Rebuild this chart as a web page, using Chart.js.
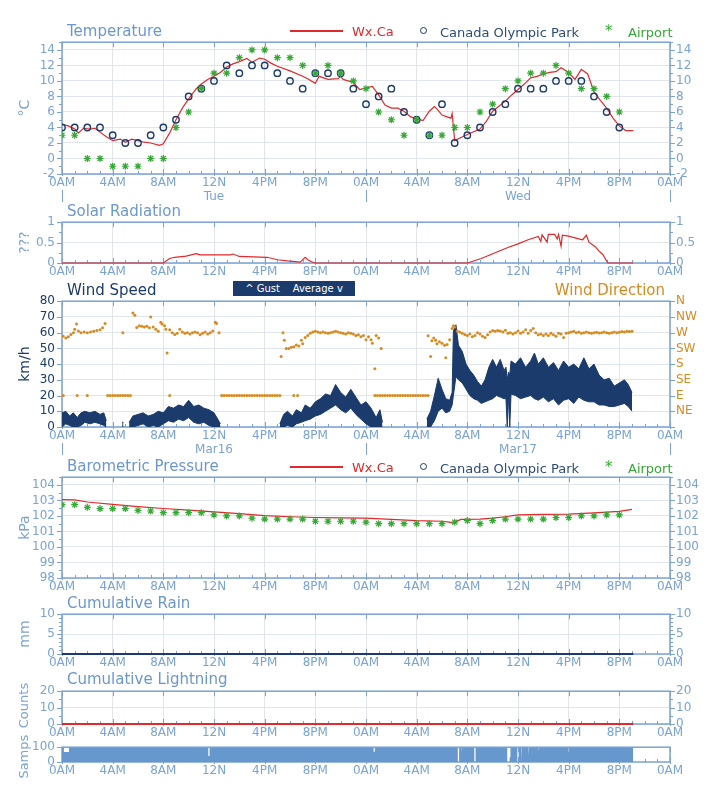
<!DOCTYPE html>
<html>
<head>
<meta charset="utf-8">
<script src="https://cdn.jsdelivr.net/npm/chart.js@4.4.1/dist/chart.umd.min.js"></script>
<style>
  body { margin: 0; background: #fff; width: 715px; height: 800px; position: relative; overflow: hidden;
         font-family: "DejaVu Sans", sans-serif; }
  canvas { position: absolute; left: 0; }
  .t { position: absolute; white-space: nowrap; line-height: 1; transform: translateY(-50%); }
  .ttl { font-size: 15px; color: #6b97cf; }
  .lg { font-size: 13px; }
</style>
</head>
<body>
<canvas id="cTemp"></canvas>
<canvas id="cSolar"></canvas>
<canvas id="cWind"></canvas>
<canvas id="cPres"></canvas>
<canvas id="cRain"></canvas>
<canvas id="cLight"></canvas>
<canvas id="cSamps"></canvas>

<!-- titles and legends -->
<div class="t ttl" style="left:67px;top:31px">Temperature</div>
<div style="position:absolute;left:290px;top:30px;width:53px;height:1.5px;background:#e2292b"></div>
<div class="t lg" style="left:352px;top:31px;color:#e2292b">Wx.Ca</div>
<div style="position:absolute;left:420px;top:27px;width:5px;height:5px;border:1.5px solid #1b3b6c;border-radius:50%"></div>
<div class="t lg" style="left:440px;top:32px;color:#2c4b7c">Canada Olympic Park</div>
<div class="t lg" style="left:605px;top:31px;color:#34a934;font-size:15px">*</div>
<div class="t lg" style="left:628px;top:32px;color:#34a934">Airport</div>

<div class="t ttl" style="left:67px;top:211px">Solar Radiation</div>

<div class="t ttl" style="left:67px;top:290px;color:#1b3b6c">Wind Speed</div>
<div style="position:absolute;left:233px;top:281px;width:122px;height:15px;background:#1b3b6c;color:#fff;font-size:10px;line-height:15px;text-align:center;white-space:pre">^ Gust    Average v</div>
<div class="t ttl" style="right:50px;top:290px;color:#d88a1d">Wind Direction</div>

<div class="t ttl" style="left:67px;top:466px">Barometric Pressure</div>
<div style="position:absolute;left:290px;top:466px;width:53px;height:1.5px;background:#e2292b"></div>
<div class="t lg" style="left:352px;top:467px;color:#e2292b">Wx.Ca</div>
<div style="position:absolute;left:420px;top:463px;width:5px;height:5px;border:1.5px solid #1b3b6c;border-radius:50%"></div>
<div class="t lg" style="left:440px;top:468px;color:#2c4b7c">Canada Olympic Park</div>
<div class="t lg" style="left:605px;top:467px;color:#34a934;font-size:15px">*</div>
<div class="t lg" style="left:628px;top:468px;color:#34a934">Airport</div>

<div class="t ttl" style="left:67px;top:603px">Cumulative Rain</div>
<div class="t ttl" style="left:67px;top:679px">Cumulative Lightning</div>

<script>
// ---- data (hours from 0AM of the first day) ----
const hourLabels = ['0AM', '4AM', '8AM', '12N', '4PM', '8PM', '0AM', '4AM', '8AM', '12N', '4PM', '8PM', '0AM'];
const dirNames = ['', 'NE', 'E', 'SE', 'S', 'SW', 'W', 'NW', 'N'];

// Wx.Ca temperature [hour, degC]
const tempWx = [
  [0, 4.4], [0.5, 4.2], [1, 3.8], [1.3, 3.3], [1.7, 3.9], [2.2, 3.8], [2.6, 3.9], [3, 3.4], [3.5, 2.8], [4, 2.3],
  [4.6, 2.5], [5, 2.1], [5.5, 2.5], [6, 2.3], [6.5, 2.1], [7, 2.0], [7.7, 1.7], [8, 1.9], [8.5, 3.3], [9, 5.0],
  [9.5, 6.5], [10, 7.7], [10.6, 9.0], [11, 9.6], [11.5, 10.2], [12, 10.6], [12.5, 11.1], [13, 11.8], [13.5, 12.2], [14, 12.5],
  [14.6, 12.9], [15, 12.4], [15.6, 12.95], [16, 12.8], [16.5, 12.3], [17, 11.9], [18, 11.3], [19, 10.6], [19.5, 10.2], [20, 9.7],
  [20.3, 10.6], [21, 10.2], [21.8, 10.3], [22, 10.6], [22.2, 10.2], [23, 9.8], [23.5, 8.9], [24, 9.1], [24.5, 9.3], [25, 8.2],
  [25.5, 6.9], [26, 6.5], [26.5, 6.5], [27, 6.1], [27.5, 5.4], [28, 5.1], [28.5, 4.9], [29, 6.1], [29.4, 6.7], [29.6, 6.4],
  [30, 5.6], [30.7, 5.2], [30.8, 5.8], [31, 2.3], [31.5, 2.7], [32, 3.1], [33, 3.8], [33.5, 4.8], [34, 6.1], [35, 7.4],
  [35.5, 8.2], [36, 8.9], [36.5, 9.6], [37, 10.4], [37.5, 10.6], [38, 10.9], [38.5, 11.1], [39, 11.2], [39.4, 11.7], [40, 11.1],
  [40.5, 10.2], [41, 11.5], [41.5, 10.9], [42, 8.6], [42.5, 7.5], [43, 6.5], [43.5, 5.2], [44, 4.2], [44.5, 3.6], [45.1, 3.6]
];
// hourly observations, hour 0 .. 44
const parkTemp = [4, 4, 4, 4, 3, 2, 2, 3, 4, 5, 8, 9, 10, 12, 11, 12, 12, 11, 10, 9, 11, 11, 11, 9,
                  7, 8, 9, 6, 5, 3, 7, 2, 3, 4, 6, 7, 9, 9, 9, 10, 10, 10, 8, 6, 4];
const airportTemp = [3, 3, 0, 0, -1, -1, -1, 0, 0, 4, 6, 9, 11, 11, 13, 14, 14, 13, 13, 12, 11, 12, 11, 10,
                     9, 6, 5, 3, 5, 3, 3, 4, 4, 6, 7, 9, 10, 11, 11, 12, 11, 9, 9, 8, 6];

// solar radiation [hour, value]
const solar = [
  [0, 0], [8, 0], [8.5, 0.11], [8.9, 0.14], [9.8, 0.17], [10.6, 0.23], [10.9, 0.2], [12, 0.2], [13.3, 0.2], [13.5, 0.22],
  [14, 0.16], [15.1, 0.15], [16.2, 0.14], [17, 0.08], [17.8, 0.05], [18.8, 0.02], [19.2, 0.14], [19.4, 0.08], [19.7, 0.03], [20, 0],
  [32, 0], [33.1, 0.11], [34.2, 0.25], [35.2, 0.38], [36, 0.47], [36.8, 0.57], [37.6, 0.65], [37.8, 0.53], [37.9, 0.69], [38.3, 0.51],
  [38.4, 0.7], [38.9, 0.7], [39.1, 0.59], [39.2, 0.7], [39.4, 0.41], [39.5, 0.68], [40, 0.66], [40.8, 0.59], [41.1, 0.57], [41.4, 0.68],
  [41.6, 0.51], [42.1, 0.4], [42.4, 0.29], [42.7, 0.21], [42.9, 0.1], [43.1, 0], [45.1, 0]
];

// wind [hour, average, gust]; null = no data
const wind = [
  [0.0, 0, 9], [0.3, 2, 10], [0.6, 1, 7], [0.9, 0, 9], [1.2, 0, 6], [1.5, 1, 9], [1.8, 3, 10], [2.2, 2, 9], [2.6, 3, 10], [3.0, 2, 8],
  [3.3, 1, 9], [3.5, 0, 4], [3.6, null, null],
  [4.75, 0, 3], [4.85, 0, 3], [4.9, null, null],
  [5.3, 0, 3], [5.6, 0, 7], [6.0, 1, 8], [6.4, 2, 9], [6.8, 0, 7], [7.2, 1, 8], [7.6, 0, 10], [8.0, 2, 9], [8.4, 4, 13], [8.8, 3, 12],
  [9.2, 5, 14], [9.6, 4, 13], [10.0, 6, 17], [10.4, 3, 13], [10.8, 2, 14], [11.2, 3, 12], [11.6, 1, 11], [12.0, 0, 9], [12.3, 0, 5], [12.5, 0, 2],
  [12.6, null, null],
  [17.2, 0, 2], [17.5, 0, 8], [17.8, 1, 10], [18.2, 0, 7], [18.5, 2, 11], [18.9, 3, 9], [19.2, 4, 14], [19.6, 5, 12], [20.0, 7, 16], [20.4, 8, 18],
  [20.8, 10, 21], [21.2, 12, 20], [21.6, 14, 27], [22.0, 11, 22], [22.4, 9, 19], [22.8, 12, 24], [23.2, 8, 19], [23.6, 5, 14], [24.0, 2, 16], [24.4, 0, 12],
  [24.8, 0, 6], [25.1, 0, 11], [25.3, 0, 3], [25.4, null, null],
  [28.8, 0, 5], [29.1, 0, 10], [29.4, 4, 20], [29.7, 10, 31], [30.0, 12, 24], [30.3, 9, 18], [30.6, 10, 17], [30.8, 14, 22], [30.9, 20, 61], [31.1, 32, 65],
  [31.3, 30, 52], [31.6, 28, 48], [31.9, 24, 40], [32.2, 20, 36], [32.5, 18, 33], [32.8, 17, 29], [33.1, 15, 26], [33.4, 16, 30], [33.7, 17, 38], [34.0, 18, 43],
  [34.3, 20, 38], [34.6, 19, 43], [34.9, 18, 36], [35.05, 18, 38], [35.15, 0, 30], [35.25, 20, 35], [35.35, 0, 33], [35.45, 21, 42], [35.8, 20, 40], [36.2, 18, 44],
  [36.6, 19, 38], [37.0, 20, 42], [37.3, 18, 47], [37.6, 17, 40], [38.0, 19, 44], [38.4, 16, 38], [38.8, 18, 41], [39.2, 14, 36], [39.6, 17, 42], [40.0, 18, 38],
  [40.4, 15, 40], [40.8, 19, 37], [41.2, 17, 44], [41.6, 16, 37], [42.0, 16, 40], [42.4, 14, 33], [42.8, 14, 30], [43.2, 13, 31], [43.6, 13, 26], [44.0, 14, 28],
  [44.4, 15, 30], [44.7, 13, 27], [45.0, 10, 22]
];

// wind direction [hour, degrees]
const windDir = [
  [0.1, 260], [0.3, 255], [0.5, 258], [0.7, 265], [0.9, 270], [1.0, 280], [1.15, 295], [1.3, 275], [1.5, 270], [1.75, 272],
  [2.0, 270], [2.25, 272], [2.5, 274], [2.75, 276], [3.0, 278], [3.2, 284], [3.4, 296],
  [0.1, 90], [1.2, 90], [2.0, 90],
  [3.6, 90], [3.8, 90], [4.0, 90], [4.2, 90], [4.4, 90], [4.6, 90], [4.8, 90], [5.0, 90], [5.2, 90], [5.4, 90], [4.8, 270],
  [5.6, 326], [5.75, 320], [5.9, 285], [6.1, 290], [6.3, 288], [6.5, 286], [6.7, 288], [6.9, 284], [7.0, 315], [7.2, 286],
  [7.4, 280], [7.6, 274], [7.8, 300], [7.9, 295], [8.1, 290], [8.2, 280], [8.3, 212], [8.5, 278], [8.7, 270], [8.9, 265],
  [9.1, 268], [9.3, 280], [9.5, 272], [9.7, 268], [9.9, 270], [10.1, 266], [10.3, 270], [10.5, 272], [10.7, 270], [10.9, 264],
  [11.1, 268], [11.3, 272], [11.5, 266], [11.7, 270], [11.9, 275], [12.1, 300], [12.2, 296], [12.4, 270], [8.5, 90],
  [12.6, 90], [12.8, 90], [13.0, 90], [13.2, 90], [13.4, 90], [13.6, 90], [13.8, 90], [14.0, 90], [14.2, 90], [14.4, 90],
  [14.6, 90], [14.8, 90], [15.0, 90], [15.2, 90], [15.4, 90], [15.6, 90], [15.8, 90], [16.0, 90], [16.2, 90], [16.4, 90],
  [16.6, 90], [16.8, 90], [17.0, 90], [17.2, 90], [18.3, 90], [18.6, 90],
  [17.3, 202], [17.45, 270], [17.55, 248], [17.7, 225], [17.9, 225], [18.1, 228], [18.3, 230], [18.5, 235], [18.7, 232], [18.9, 248],
  [19.0, 238], [19.2, 256], [19.4, 262], [19.6, 268], [19.8, 272], [20.0, 274], [20.2, 272], [20.4, 270], [20.6, 272], [20.8, 270],
  [21.0, 268], [21.2, 270], [21.4, 272], [21.6, 274], [21.8, 272], [22.0, 270], [22.2, 268], [22.4, 266], [22.6, 270], [22.8, 268],
  [23.0, 266], [23.2, 262], [23.4, 264], [23.6, 258], [23.8, 262], [24.0, 250],
  [24.2, 258], [24.4, 250], [24.5, 240], [24.7, 167], [24.8, 262], [25.0, 255], [25.2, 225],
  [24.7, 90], [24.9, 90], [25.1, 90], [25.3, 90], [25.5, 90], [25.7, 90], [25.9, 90], [26.1, 90], [26.3, 90], [26.5, 90],
  [26.7, 90], [26.9, 90], [27.1, 90], [27.3, 90], [27.5, 90], [27.7, 90], [27.9, 90], [28.1, 90], [28.3, 90], [28.5, 90],
  [28.7, 90], [28.9, 90],
  [28.9, 261], [29.1, 202], [29.2, 247], [29.35, 255], [29.5, 248], [29.6, 238], [29.8, 244], [30.0, 240], [30.2, 234], [30.3, 198],
  [30.4, 236], [30.6, 250], [30.8, 282], [30.9, 290], [31.0, 286], [31.2, 275],
  [31.4, 272], [31.6, 268], [31.8, 265], [32.0, 262], [32.2, 266], [32.4, 258], [32.6, 262], [32.8, 270], [33.0, 266], [33.2, 260],
  [33.4, 256], [33.6, 264], [33.8, 272], [34.0, 276], [34.2, 274], [34.4, 276], [34.6, 275], [34.8, 272], [35.0, 277], [35.2, 268],
  [35.4, 270], [35.6, 266], [35.8, 270], [36.0, 275], [36.2, 268], [36.4, 272], [36.6, 278], [36.8, 268], [37.0, 276], [37.2, 282],
  [37.4, 270], [37.6, 264], [37.8, 266], [38.0, 262], [38.2, 266], [38.4, 262], [38.6, 268], [38.8, 264], [39.0, 260], [39.2, 268],
  [39.4, 266], [39.6, 256], [39.8, 268], [40.0, 270], [40.2, 272], [40.4, 274], [40.6, 270], [40.8, 272], [41.0, 268], [41.2, 270],
  [41.4, 272], [41.6, 270], [41.8, 268], [42.0, 270], [42.2, 271], [42.4, 269], [42.6, 270], [42.8, 272], [43.0, 270], [43.2, 268],
  [43.4, 270], [43.6, 272], [43.8, 270], [44.0, 271], [44.2, 273], [44.4, 272], [44.6, 274], [44.8, 273], [45.0, 274]
];

// pressure
const presWx = [
  [0, 103.05], [1, 103.04], [2, 102.9], [4, 102.75], [6, 102.6], [8, 102.48], [10, 102.38], [12, 102.27], [14, 102.15], [16, 102.02],
  [18, 101.95], [20, 101.9], [22, 101.88], [24, 101.86], [26, 101.78], [28, 101.7], [30, 101.66], [30.6, 101.6], [30.8, 101.54], [31.5, 101.78],
  [33, 101.8], [34, 101.86], [35, 101.95], [36, 102.07], [38, 102.1], [40, 102.12], [42, 102.2], [44, 102.3], [45, 102.42]
];
const presAirport = [102.73, 102.73, 102.56, 102.48, 102.48, 102.48, 102.36, 102.32, 102.21, 102.21, 102.21, 102.21,
                     102.07, 102.0, 102.0, 101.86, 101.8, 101.8, 101.8, 101.8, 101.66, 101.66, 101.66, 101.66,
                     101.6, 101.5, 101.5, 101.5, 101.5, 101.5, 101.5, 101.6, 101.7, 101.5, 101.7, 101.8,
                     101.8, 101.8, 101.8, 101.9, 101.9, 102.0, 102.0, 102.07, 102.07];

const rain = [[0, 0], [45.1, 0]];
const lightning = [[0, 0], [45.1, 0]];

// samples per interval: full 100 from 0 to 45.1 h, except these [start, end, count]
const sampsEnd = 45.1;
const sampsDips = [[0.15, 0.55, 68], [11.55, 11.65, 40], [24.6, 24.7, 70], [31.25, 31.35, 0], [31.5, 31.55, 70],
                   [32.55, 32.65, 0], [35.15, 35.3, 0], [35.35, 35.4, 30], [35.95, 36.05, 0], [36.25, 36.3, 0],
                   [36.8, 36.85, 40], [37.6, 37.65, 70], [40.0, 40.05, 70]];

// ---- styling ----
const AX = '#7aa3d6', GRID = '#e1e5ec', RED = '#e2292b', NAVY = '#1b3b6c', GREEN = '#34a934',
      ORANGE = '#d88a1d', SAMP = '#6697cd';

Chart.defaults.font.family = '"DejaVu Sans", sans-serif';
Chart.defaults.font.size = 12;

const pts = arr => arr.map(p => ({ x: p[0], y: p[1] }));
const hourly = arr => arr.map((v, i) => ({ x: i, y: v }));
const plain = v => String(v);

// box, inner hour ticks, y ticks, day labels
const framePlugin = {
  id: 'frame',
  beforeDatasetsDraw(chart, args, o) {
    const { ctx, chartArea: a, scales } = chart;
    const x = scales.x, y = scales.y;
    ctx.save();
    ctx.strokeStyle = AX;
    ctx.lineWidth = 1;
    ctx.beginPath();
    for (let h = 0; h <= 48; h++) {
      const px = Math.round(x.getPixelForValue(h)) + 0.5;
      const major = h % 4 === 0;
      ctx.moveTo(px, a.bottom + (major ? 2 : 0));
      ctx.lineTo(px, a.bottom - (major ? 5 : 3));
      if (major) { ctx.moveTo(px, a.top); ctx.lineTo(px, a.top + 5); }
    }
    const yTick = (v, len) => {
      const py = Math.round(y.getPixelForValue(v)) + 0.5;
      ctx.moveTo(a.left - len, py); ctx.lineTo(a.left, py);
      if (o.right) { ctx.moveTo(a.right, py); ctx.lineTo(a.right + len, py); }
    };
    y.ticks.forEach(t => yTick(t.value, 5));
    if (o.minor) {
      for (let v = y.min; v <= y.max + 1e-9; v += o.minor) yTick(v, 3);
    }
    if (o.days) {
      [0, 24, 48].forEach(h => {
        const px = Math.round(x.getPixelForValue(h)) + 0.5;
        ctx.moveTo(px, a.bottom + 16); ctx.lineTo(px, a.bottom + 28);
      });
    }
    ctx.stroke();
    ctx.lineWidth = 1.5;
    ctx.strokeRect(a.left, a.top, a.width, a.height);
    if (o.days) {
      ctx.fillStyle = AX;
      ctx.font = '12px "DejaVu Sans", sans-serif';
      ctx.textAlign = 'center';
      ctx.textBaseline = 'middle';
      ctx.fillText(o.days[0], x.getPixelForValue(12), a.bottom + 23);
      ctx.fillText(o.days[1], x.getPixelForValue(36), a.bottom + 23);
    }
    ctx.restore();
  }
};

function xAxis(h, grid) {
  return {
    type: 'linear', min: 0, max: 48,
    afterFit: s => { s.height = h; },
    border: { display: false },
    grid: { display: grid, color: GRID, drawTicks: false },
    ticks: { stepSize: 4, autoSkip: false, maxRotation: 0, padding: 2, color: AX,
             callback: v => hourLabels[v / 4] }
  };
}
function yLeft(min, max, step, title, color, titleSize) {
  return {
    position: 'left', min, max,
    afterFit: s => { s.width = 62; },
    border: { display: false },
    grid: { color: GRID, drawTicks: false },
    ticks: { stepSize: step, includeBounds: false, autoSkip: false, padding: 7, color: color || AX, callback: plain },
    title: { display: true, text: title, color: color || AX, font: { size: titleSize || 14 }, padding: { top: 17, bottom: 0 } }
  };
}
function yRight(min, max, step, color, cb) {
  return {
    position: 'right', min, max,
    afterFit: s => { s.width = 45; },
    border: { display: false },
    grid: { display: false, drawTicks: false },
    ticks: { stepSize: step, includeBounds: false, autoSkip: false, padding: 6, color: color || AX, callback: cb || plain }
  };
}

function panel(id, areaTop, areaH, xh, datasets, y, y2, frame, xGrid) {
  const cv = document.getElementById(id);
  cv.width = 715;
  cv.height = 10 + areaH + xh;
  cv.style.top = (areaTop - 10) + 'px';
  const scales = { x: xAxis(xh, xGrid !== false), y };
  if (y2) scales.y2 = y2;
  return new Chart(cv, {
    type: 'line',
    data: { datasets },
    options: {
      responsive: false, animation: false, devicePixelRatio: 1,
      layout: { padding: { top: 10, right: y2 ? 0 : 45 } },
      elements: { line: { tension: 0 } },
      plugins: { legend: { display: false }, tooltip: { enabled: false }, frame },
      scales
    },
    plugins: [framePlugin]
  });
}

// Temperature
panel('cTemp', 38, 136, 32, [
  { data: hourly(airportTemp), showLine: false, pointStyle: 'star', pointRadius: 3.5, borderColor: GREEN, borderWidth: 1.2 },
  { data: hourly(parkTemp), showLine: false, pointStyle: 'circle', pointRadius: 3.2, borderColor: NAVY, backgroundColor: 'rgba(255,255,255,0)', borderWidth: 1.4 },
  { data: pts(tempWx), borderColor: RED, borderWidth: 1.2, pointRadius: 0 }
], yLeft(-2, 15, 2, '°C'), yRight(-2, 15, 2), { right: true, minor: 1, days: ['Tue', 'Wed'] });

// Solar radiation
panel('cSolar', 218, 45, 22, [
  { data: pts(solar), borderColor: RED, borderWidth: 1.2, pointRadius: 0, clip: 3 }
], yLeft(0, 1, 0.5, '???'), yRight(0, 1, 0.5), { right: true, minor: 0.25 });

// Wind speed + direction
panel('cWind', 297, 130, 32, [
  { data: pts(windDir), yAxisID: 'y2', showLine: false, pointRadius: 1.5, pointBorderWidth: 0, backgroundColor: ORANGE, borderColor: ORANGE },
  { data: wind.map(r => ({ x: r[0], y: r[1] })), borderColor: NAVY, borderWidth: 1, pointRadius: 0, fill: false, spanGaps: false },
  { data: wind.map(r => ({ x: r[0], y: r[2] })), borderColor: NAVY, borderWidth: 1, pointRadius: 0, fill: '-1', backgroundColor: NAVY, spanGaps: false }
], yLeft(0, 80, 10, 'km/h', NAVY), yRight(0, 360, 45, ORANGE, v => dirNames[v / 45]), { right: true, days: ['Mar16', 'Mar17'] });

// Barometric pressure
panel('cPres', 473, 105, 22, [
  { data: hourly(presAirport), showLine: false, pointStyle: 'star', pointRadius: 3.5, borderColor: GREEN, borderWidth: 1.2 },
  { data: pts(presWx), borderColor: RED, borderWidth: 1.2, pointRadius: 0 }
], yLeft(98, 104.5, 1, 'kPa'), yRight(98, 104.5, 1), { right: true, minor: 0.5 });

// Cumulative rain
panel('cRain', 610, 44, 22, [
  { data: pts(rain), borderColor: NAVY, borderWidth: 2, pointRadius: 0, clip: 4 }
], yLeft(0, 10, 5, 'mm'), yRight(0, 10, 5), { right: true, minor: 1 });

// Cumulative lightning
panel('cLight', 687, 37, 18, [
  { data: pts(lightning), borderColor: RED, borderWidth: 2, pointRadius: 0, clip: 4 }
], yLeft(0, 20, 10, ' Counts', AX, 13), yRight(0, 20, 10), { right: true, minor: 5 });

// Samples
const sampsPts = [{ x: 0, y: 100 }];
sampsDips.forEach(d => {
  sampsPts.push({ x: d[0], y: 100 }, { x: d[0], y: d[2] }, { x: d[1], y: d[2] }, { x: d[1], y: 100 });
});
sampsPts.push({ x: sampsEnd, y: 100 }, { x: sampsEnd, y: 0 });
const yS = yLeft(0, 100, 100, 'Samps ', AX, 13);
yS.grid = { display: false, drawTicks: false };
panel('cSamps', 743, 19, 22, [
  { data: sampsPts, borderWidth: 0, pointRadius: 0, fill: 'origin', backgroundColor: SAMP, borderColor: SAMP }
], yS, null, { right: false }, false);
</script>
</body>
</html>
